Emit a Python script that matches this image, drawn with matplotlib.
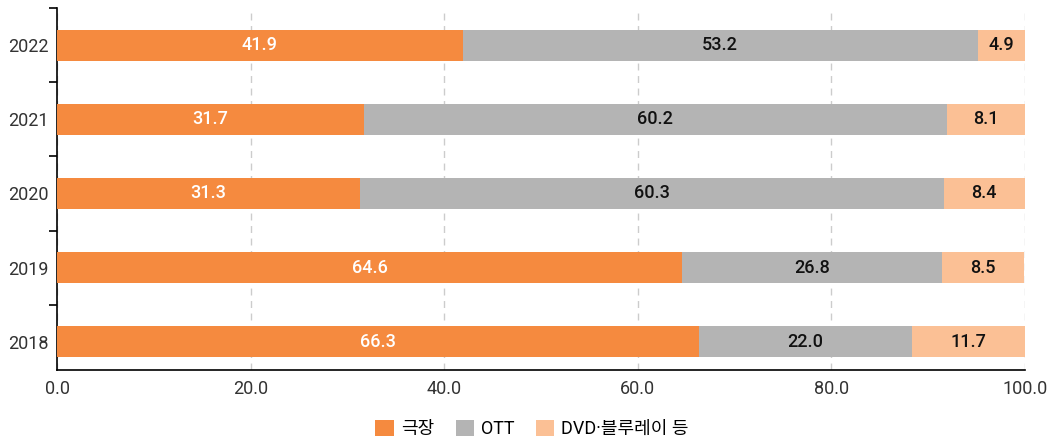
import matplotlib
matplotlib.use("Agg")
import matplotlib.pyplot as plt
import numpy as np

plt.rcParams['font.family'] = ['Roboto', 'Noto Sans CJK KR', 'DejaVu Sans']

years = ['2018', '2019', '2020', '2021', '2022']
theater = [66.3, 64.6, 31.3, 31.7, 41.9]
ott = [22.0, 26.8, 60.3, 60.2, 53.2]
dvd = [11.7, 8.5, 8.4, 8.1, 4.9]
series_names = ['극장', 'OTT', 'DVD·블루레이 등']
colors = ['#F58A3F', '#B4B4B4', '#FBC095']
text_colors = ['white', '#111111', '#111111']

fig = plt.figure(figsize=(10.58, 4.41), dpi=100)
ax = fig.add_axes([57/1058, 1-370/441, (1025-57)/1058, (370-8)/441])

y = np.arange(len(years))
left = np.zeros(len(years))
for vals, name, c, tc in zip([theater, ott, dvd], series_names, colors, text_colors):
    ax.barh(y, vals, left=left, height=0.42, color=c, label=name, zorder=3)
    for yi, l, v in zip(y, left, vals):
        ax.text(l + v/2, yi, f'{v:.1f}', ha='center', va='center', color=tc,
                fontsize=13, fontweight='medium', zorder=4)
    left = left + np.array(vals)

ax.set_xlim(0, 100)
ax.set_ylim(-0.38, 4.5)
ax.set_xticks(np.arange(0, 101, 20))
ax.set_xticklabels([f'{v:.1f}' for v in np.arange(0, 101, 20)], fontsize=13, color='#333333')
ax.set_yticks(y)
ax.set_yticklabels(years, fontsize=13, color='#333333')
ax.tick_params(axis='y', which='major', length=0, pad=6)
ax.set_yticks(np.arange(-0.5, 5, 1)[1:], minor=True)
ax.tick_params(axis='y', which='minor', length=6, width=1.2, color='black', direction='out')
ax.tick_params(axis='x', length=0, pad=7)
ax.xaxis.grid(True, linestyle=(0, (5, 4)), color='#CCCCCC', linewidth=1, zorder=0)
for s in ['top', 'right']:
    ax.spines[s].set_visible(False)
ax.spines['left'].set_linewidth(1.2)
ax.spines['bottom'].set_linewidth(1.2)

fig.legend(loc='lower center', ncol=3, frameon=False, fontsize=13, handlelength=1.0,
           handleheight=1.0, handletextpad=0.4, columnspacing=1.2, bbox_to_anchor=(0.503, -0.03))

fig.savefig('out.png', dpi=100)
